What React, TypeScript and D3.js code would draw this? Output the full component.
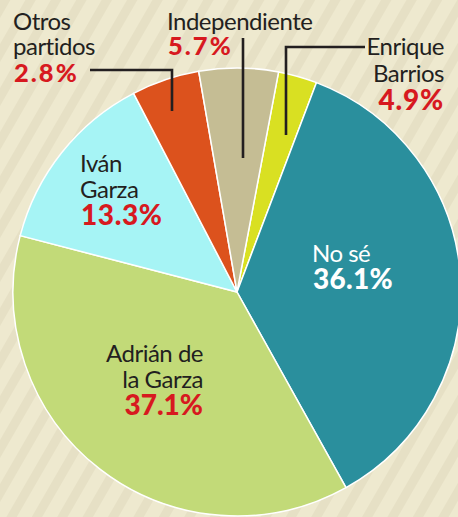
import React from "react";
import * as d3 from "d3";

// Slices in drawing order (clockwise from top), sizes as drawn
const sliceKeys = ["yellow", "noSe", "adrian", "ivan", "orange", "independiente"];
const sliceValues = [2.8, 36.1, 37.1, 13.3, 4.9, 5.7];
const sliceColors = ["#d9e022", "#2a8f9d", "#c2da78", "#a6f4f5", "#dc521d", "#c5bd94"];

// Printed labels
const labelNames = [["Otros", "partidos"], ["Independiente"], ["Enrique", "Barrios"], ["Iván", "Garza"], ["No sé"], ["Adrián de", "la Garza"]];
const labelPcts = ["2.8%", "5.7%", "4.9%", "13.3%", "36.1%", "37.1%"];

const W = 458;
const H = 517;
const cx = 237;
const cy = 292;
const R = 224;
const startDeg = 10.7;

export default function App() {
  const pie = d3
    .pie<number>()
    .sort(null)
    .value((d) => d)
    .startAngle((startDeg * Math.PI) / 180)
    .endAngle((startDeg * Math.PI) / 180 + 2 * Math.PI);
  const arcs = pie(sliceValues);
  const arc = d3.arc<d3.PieArcDatum<number>>().innerRadius(0).outerRadius(R);

  const nameFont = "Lato, 'Noto Sans', sans-serif";
  const dark = "#231f20";
  const red = "#d7191f";

  // label layout: x, anchor, baselines (names..., pct), name colour, pct colour, pct size, pct spacing
  const layout: {
    x: number;
    anchor: "start" | "end";
    ys: number[];
    nc: string;
    pc: string;
    ps: number;
    ls: number;
  }[] = [
    { x: 13, anchor: "start", ys: [29.5, 54.5, 82], nc: dark, pc: red, ps: 25.5, ls: 2 },
    { x: 167, anchor: "start", ys: [30, 55], nc: dark, pc: red, ps: 25.5, ls: 2 },
    { x: 444, anchor: "end", ys: [55, 82, 110], nc: dark, pc: red, ps: 28, ls: 0.8 },
    { x: 80, anchor: "start", ys: [171.5, 198, 225], nc: dark, pc: red, ps: 28, ls: 0.6 },
    { x: 312, anchor: "start", ys: [262, 289], nc: "#ffffff", pc: "#ffffff", ps: 28, ls: 0.3 },
    { x: 203, anchor: "end", ys: [361.5, 388, 415], nc: dark, pc: red, ps: 28, ls: 0 },
  ];

  return (
    <svg
      width={W}
      height={H}
      style={{ position: "absolute", left: 0, top: 0, display: "block" }}
    >
      <defs>
        <pattern
          id="stripes"
          width={22}
          height={22}
          patternUnits="userSpaceOnUse"
          patternTransform="rotate(30)"
        >
          <rect width={22} height={22} fill="#eee9cf" />
          <rect width={9} height={22} fill="#e6e0c5" />
        </pattern>
      </defs>
      <rect width={W} height={H} fill="url(#stripes)" />
      <g transform={`translate(${cx},${cy})`}>
        {arcs.map((a, i) => (
          <path
            key={sliceKeys[i]}
            d={arc(a) || ""}
            fill={sliceColors[i]}
            stroke="#ffffff"
            strokeWidth={1.5}
            strokeLinejoin="round"
          />
        ))}
      </g>
      {/* leader lines */}
      <g stroke="#231f20" strokeWidth={2.6} fill="none">
        <polyline points="90,70 172,70 172,111" />
        <polyline points="243,38 243,158" />
        <polyline points="365,47 286,47 286,135" />
      </g>
      {labelNames.map((lines, i) => {
        const L = layout[i];
        return (
          <g key={i} textAnchor={L.anchor}>
            {lines.map((t, j) => (
              <text
                key={j}
                x={L.x}
                y={L.ys[j]}
                fill={L.nc}
                fontFamily={nameFont}
                fontSize={24}
                letterSpacing={-0.5}
              >
                {t}
              </text>
            ))}
            <text
              x={L.x + (L.anchor === "start" ? 1 : 0)}
              y={L.ys[lines.length]}
              fill={L.pc}
              fontFamily={nameFont}
              fontWeight={900}
              fontSize={L.ps}
              letterSpacing={L.ls}
            >
              {labelPcts[i]}
            </text>
          </g>
        );
      })}
    </svg>
  );
}
